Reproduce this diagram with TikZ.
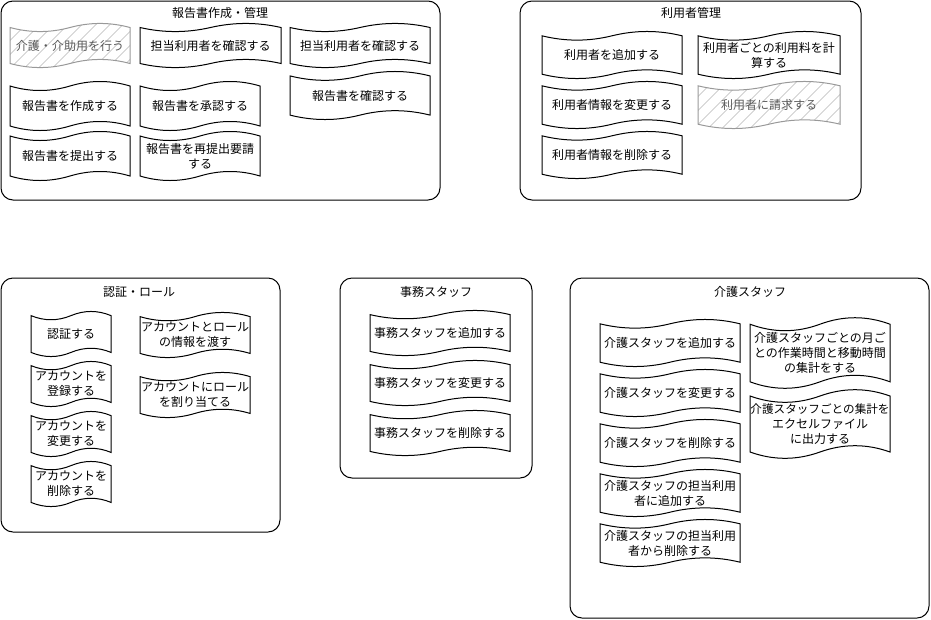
\documentclass[tikz,border=0pt]{standalone}
\usepackage{fontspec}
\setmainfont{Noto Sans CJK JP}
\usetikzlibrary{patterns.meta}
\tikzset{
  grp/.style={draw=black, line width=1pt, rounded corners=12pt},
  ttl/.style={font=\fontsize{12}{15}\selectfont, inner sep=0pt},
  tp/.style={draw=black, line width=1pt, fill=white},
  tph/.style={draw=black!40, line width=1pt, pattern={Lines[angle=45,distance=10.5pt,line width=0.6pt]}, pattern color=black!40},
  tt/.style={font=\fontsize{12}{15}\selectfont, align=center, inner sep=0pt, text=black},
  tth/.style={font=\fontsize{12}{15}\selectfont, align=center, inner sep=0pt, text=black!65},
}
% name, shape style, text style, x, y, w, h, text
\newcommand\tape[8]{%
  \draw[#2] ({#4},{#5+0.1*#7})
    .. controls ({#4+#6/6},{#5+0.22*#7}) and ({#4+#6/3},{#5+0.22*#7}) .. ({#4+#6/2},{#5+0.1*#7})
    .. controls ({#4+2*#6/3},{#5-0.02*#7}) and ({#4+5*#6/6},{#5-0.02*#7}) .. ({#4+#6},{#5+0.1*#7})
    -- ({#4+#6},{#5+0.9*#7})
    .. controls ({#4+5*#6/6},{#5+0.78*#7}) and ({#4+2*#6/3},{#5+0.78*#7}) .. ({#4+#6/2},{#5+0.9*#7})
    .. controls ({#4+#6/3},{#5+1.02*#7}) and ({#4+#6/6},{#5+1.02*#7}) .. ({#4},{#5+0.9*#7}) -- cycle;
  \node[#3] (#1) at ({#4+#6/2},{#5+#7/2}) {#8};
}
\begin{document}
\begin{tikzpicture}[x=1pt,y=-1pt]
\useasboundingbox (0,0) rectangle (931,619);

% ---- 報告書作成・管理
\draw[grp] (1,1) rectangle (440,200);
\node[ttl] (t1) at (220,13) {報告書作成・管理};
\tape{a1}{tph}{tth}{10}{23}{120}{45}{介護・介助用を行う}
\tape{a2}{tp}{tt}{140}{23}{141}{45}{担当利用者を確認する}
\tape{a3}{tp}{tt}{290}{23}{140}{45}{担当利用者を確認する}
\tape{a4}{tp}{tt}{290}{71}{140}{49}{報告書を確認する}
\tape{a5}{tp}{tt}{10}{81}{120}{50}{報告書を作成する}
\tape{a6}{tp}{tt}{140}{81}{120}{50}{報告書を承認する}
\tape{a7}{tp}{tt}{10}{131}{120}{50}{報告書を提出する}
\tape{a8}{tp}{tt}{140}{131}{120}{50}{報告書を再提出要請\\する}

% ---- 利用者管理
\draw[grp] (520,1) rectangle (861,200);
\node[ttl] (t2) at (691,13) {利用者管理};
\tape{b1}{tp}{tt}{542}{31}{140}{48}{利用者を追加する}
\tape{b2}{tp}{tt}{542}{81}{140}{48}{利用者情報を変更する}
\tape{b3}{tp}{tt}{542}{131}{140}{48}{利用者情報を削除する}
\tape{b4}{tp}{tt}{698}{31}{142}{48}{利用者ごとの利用料を計\\算する}
\tape{b5}{tph}{tth}{698}{81}{142}{48}{利用者に請求する}

% ---- 認証・ロール
\draw[grp] (1,278) rectangle (280,532);
\node[ttl] (t3) at (139,292) {認証・ロール};
\tape{c1}{tp}{tt}{31}{311}{80}{46}{認証する}
\tape{c2}{tp}{tt}{31}{361}{80}{46}{アカウントを\\登録する}
\tape{c3}{tp}{tt}{31}{411}{80}{46}{アカウントを\\変更する}
\tape{c4}{tp}{tt}{31}{461}{80}{46}{アカウントを\\削除する}
\tape{c5}{tp}{tt}{140}{312}{110}{46}{アカウントとロール\\の情報を渡す}
\tape{c6}{tp}{tt}{140}{372}{110}{46}{アカウントにロール\\を割り当てる}

% ---- 事務スタッフ
\draw[grp] (340,278) rectangle (532,478);
\node[ttl] (t4) at (436,292) {事務スタッフ};
\tape{d1}{tp}{tt}{370}{310}{140}{46}{事務スタッフを追加する}
\tape{d2}{tp}{tt}{370}{360}{140}{46}{事務スタッフを変更する}
\tape{d3}{tp}{tt}{370}{410}{140}{46}{事務スタッフを削除する}

% ---- 介護スタッフ
\draw[grp] (570,278) rectangle (929,618);
\node[ttl] (t5) at (750,292) {介護スタッフ};
\tape{e1}{tp}{tt}{600}{319}{140}{48}{介護スタッフを追加する}
\tape{e2}{tp}{tt}{600}{369}{140}{48}{介護スタッフを変更する}
\tape{e3}{tp}{tt}{600}{419}{140}{48}{介護スタッフを削除する}
\tape{e4}{tp}{tt}{600}{469}{140}{48}{介護スタッフの担当利用\\者に追加する}
\tape{e5}{tp}{tt}{600}{519}{140}{48}{介護スタッフの担当利用\\者から削除する}
\tape{e6}{tp}{tt}{750}{317}{140}{72}{介護スタッフごとの月ご\\との作業時間と移動時間\\の集計をする}
\tape{e7}{tp}{tt}{750}{389}{140}{70}{\fontsize{11.6}{15}\selectfont 介護スタッフごとの集計を\\エクセルファイル\\に出力する}
\end{tikzpicture}
\end{document}
